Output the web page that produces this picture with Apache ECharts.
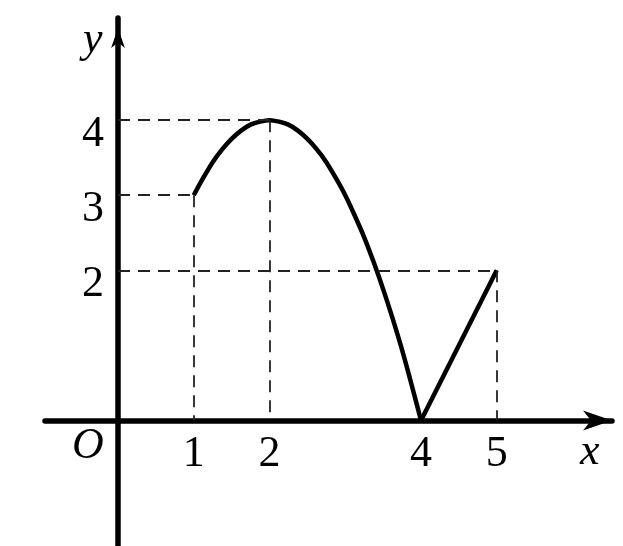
<!DOCTYPE html>
<html>
<head>
<meta charset="utf-8">
<script src="https://cdn.jsdelivr.net/npm/echarts@6/dist/echarts.min.js"></script>
<style>
  html, body { margin: 0; padding: 0; background: #fff; }
  #main { width: 623px; height: 546px; }
</style>
</head>
<body>
<div id="main"></div>
<script>
// curve: arc from (1,3) over (2,4) down to (4,0), then straight to (5,2)
var arcX = [1, 1.125, 1.25, 1.375, 1.5, 1.625, 1.75, 1.875, 2, 2.125, 2.25, 2.375, 2.5,
            2.625, 2.75, 2.875, 3, 3.125, 3.25, 3.375, 3.5, 3.625, 3.75, 3.875, 4];
var arcY = [3, 3.23, 3.44, 3.61, 3.75, 3.86, 3.94, 3.98, 4, 3.98, 3.94, 3.86, 3.75,
            3.61, 3.44, 3.23, 3, 2.73, 2.44, 2.11, 1.75, 1.36, 0.94, 0.48, 0];
var segX = [4, 5];
var segY = [0, 2];

// dashed guide points
var guideX = [1, 2, 5];
var guideY = [3, 4, 2];

// tick labels
var xTicks = [1, 2, 4, 5];
var yTicks = [2, 3, 4];

var serif = '"Liberation Serif", "DejaVu Serif", serif';

function zip(a, b) {
  return a.map(function (v, i) { return [v, b[i]]; });
}

var guides = [];
guideX.forEach(function (gx, i) {
  var gy = guideY[i];
  guides.push([{ coord: [0, gy] }, { coord: [gx, gy] }]);
  guides.push([{ coord: [gx, gy] }, { coord: [gx, 0] }]);
});

var chart = echarts.init(document.getElementById('main'));

var axisLineStyle = { color: '#000', width: 5.5 };
var arrowPath = 'path://M0,0 L10,29 L0,21 L-10,29 Z';

var option = {
  animation: false,
  backgroundColor: '#fff',
  grid: { left: 45, right: 11, top: 18, bottom: 0, containLabel: false, outerBoundsMode: 'none' },
  xAxis: {
    type: 'value',
    min: -0.9637,
    max: 6.5215,
    offset: -125.5,
    splitLine: { show: false },
    axisTick: { show: false },
    axisLine: {
      onZero: false,
      lineStyle: axisLineStyle,
      symbol: ['none', arrowPath],
      symbolSize: [20, 29],
      symbolOffset: [0, -14.5]
    },
    axisLabel: {
      customValues: xTicks,
      margin: 12,
      color: '#000',
      fontFamily: serif,
      fontSize: 44
    }
  },
  yAxis: {
    type: 'value',
    min: -1.671,
    max: 5.36,
    offset: -73,
    splitLine: { show: false },
    axisTick: { show: false },
    axisLine: {
      onZero: false,
      lineStyle: axisLineStyle,
      symbol: ['none', arrowPath],
      symbolSize: [20, 20],
      symbolOffset: [0, -20]
    },
    axisLabel: {
      customValues: yTicks,
      margin: 14,
      color: '#000',
      fontFamily: serif,
      fontSize: 44,
      verticalAlign: 'top',
      lineHeight: 28
    }
  },
  series: [
    {
      name: 'arc',
      type: 'line',
      data: zip(arcX, arcY),
      smooth: 0.3,
      showSymbol: false,
      lineStyle: { color: '#000', width: 4.5 },
      z: 3,
      markLine: {
        silent: true,
        symbol: ['none', 'none'],
        label: { show: false },
        lineStyle: { color: '#222', width: 1.8, type: [12, 8] },
        data: guides
      }
    },
    {
      name: 'segment',
      type: 'line',
      data: zip(segX, segY),
      showSymbol: false,
      lineStyle: { color: '#000', width: 4.5 },
      z: 3
    }
  ],
  graphic: [
    { type: 'text', left: 83, top: 18, style: { text: 'y', font: 'italic 44px ' + serif, fill: '#000' } },
    { type: 'text', left: 72, top: 424, style: { text: 'O', font: 'italic 44px ' + serif, fill: '#000' } },
    { type: 'text', left: 580, top: 430, style: { text: 'x', font: 'italic 44px ' + serif, fill: '#000' } }
  ]
};

chart.setOption(option);
</script>
</body>
</html>
